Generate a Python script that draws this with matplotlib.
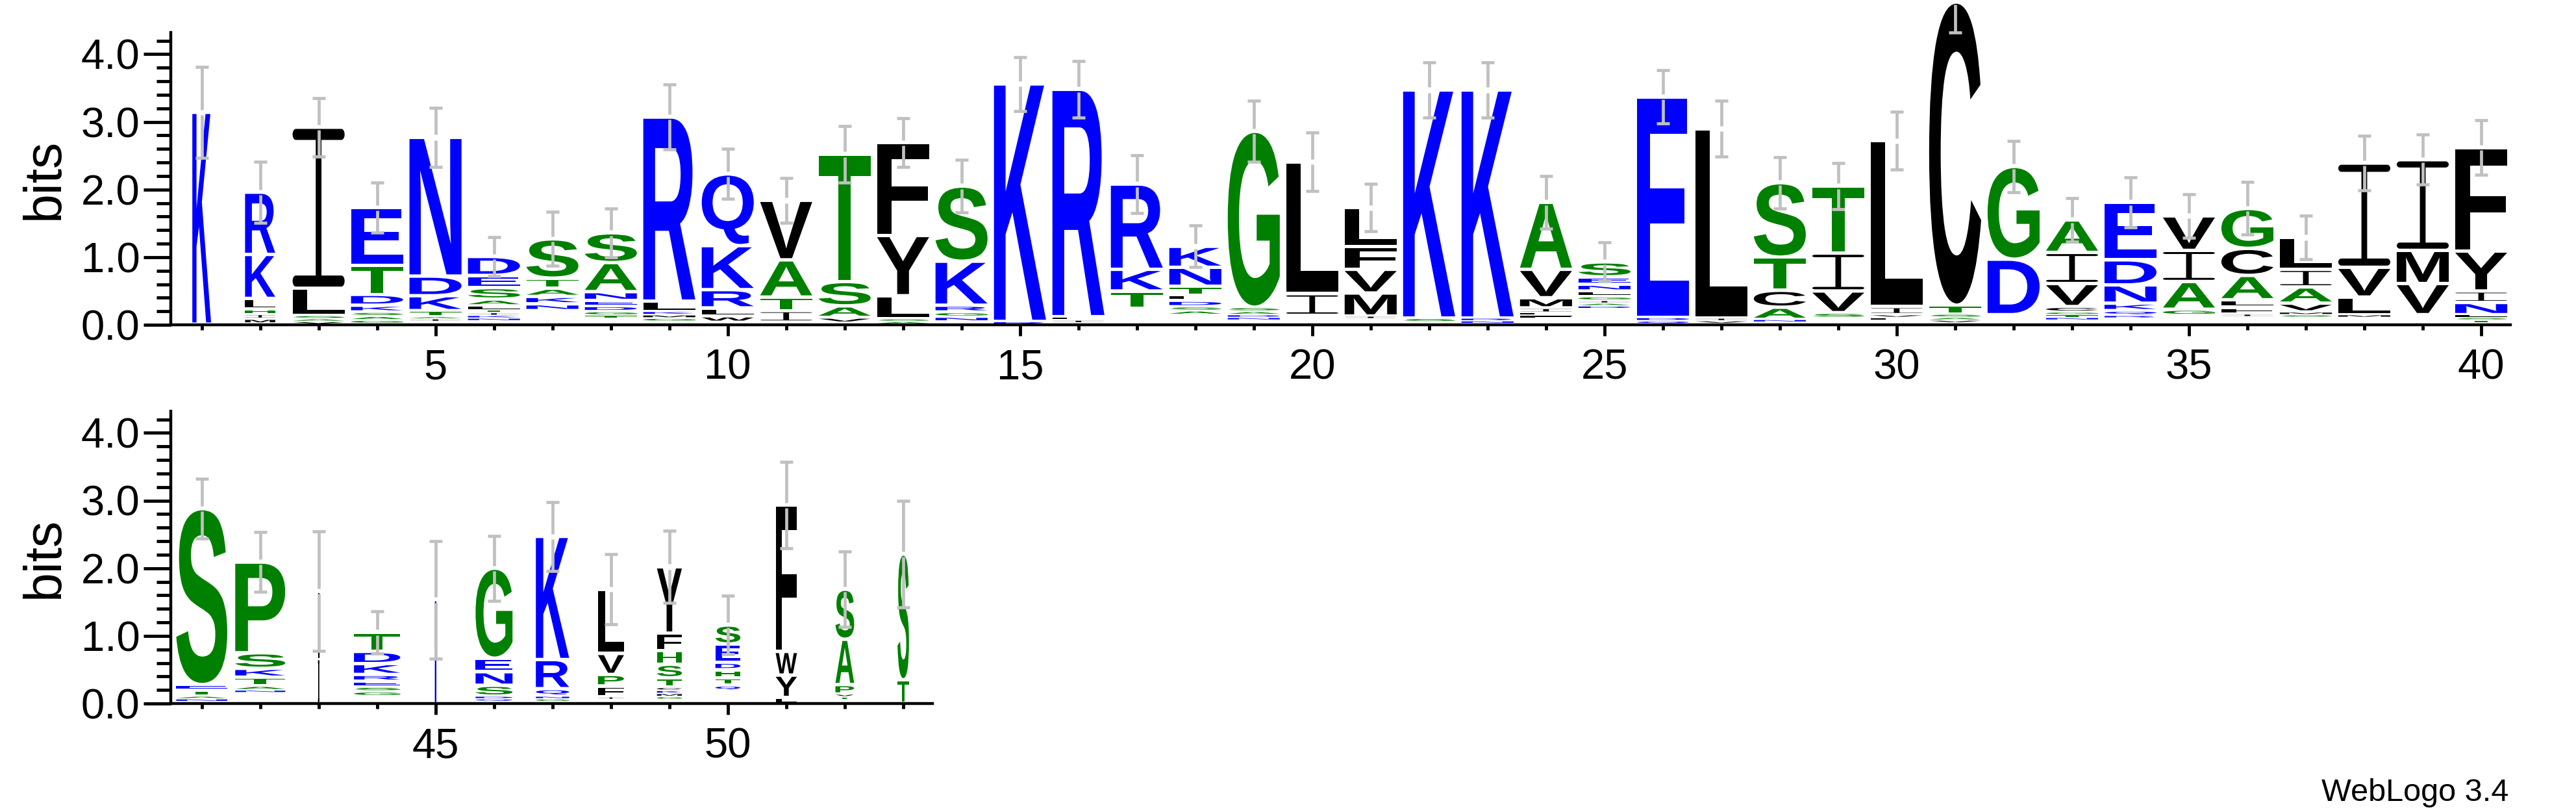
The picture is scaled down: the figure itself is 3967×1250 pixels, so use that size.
import numpy as np
import matplotlib
matplotlib.use("Agg")
import matplotlib.pyplot as plt
from matplotlib.textpath import TextPath
from matplotlib.font_manager import FontProperties
from matplotlib.patches import PathPatch
from matplotlib.path import Path
from matplotlib.transforms import Affine2D, Bbox
import matplotlib.ticker as mticker

# ---------------- data (letters listed bottom -> top, heights in bits) ----------------
positions = list(range(1, 54))

stack_letters = [
    "K", "MIHLKR", "VASLI", "GASKDTE", "IATKDN", "NKITLASED", "NKATS", "TGDENAS",
    "GMKLR", "WLRKQ", "ITAV", "VAST", "ASLYF", "NGRKS", "RK", "ILR", "TKR",
    "ASDLTNK", "NDASG", "IL", "IMVFL", "SK", "NRK", "FLIMVA", "DAIGLNES", "QDE",
    "VIL", "NACTS", "SVIT", "FVIL", "VASTC", "DG", "NTGCVIA", "RQKNDE", "GAIV",
    "IFLACG", "SMVAIL", "MLVI", "VMI", "TSLNIYF",
    "NATES", "NATKSP", "IL", "GSERKDT", "K", "QDSNEG", "GNQRK", "IFPVL",
    "GMKCTSHFY", "QTHDES", "LYWF", "TVPAS", "TS",
]

stack_heights = [
    [3.13], [0.07, 0.07, 0.07, 0.16, 0.65, 0.92], [0.04, 0.04, 0.05, 0.40, 2.38],
    [0.05, 0.06, 0.06, 0.10, 0.16, 0.43, 0.85], [0.04, 0.03, 0.09, 0.22, 0.29, 2.05],
    [0.04, 0.04, 0.04, 0.04, 0.06, 0.10, 0.17, 0.18, 0.28], [0.10, 0.11, 0.12, 0.15, 0.58],
    [0.04, 0.06, 0.08, 0.08, 0.13, 0.43, 0.44], [0.05, 0.05, 0.05, 0.15, 2.72],
    [0.09, 0.12, 0.27, 0.65, 1.06], [0.17, 0.20, 0.55, 0.88], [0.08, 0.17, 0.36, 1.88],
    [0.04, 0.04, 0.34, 0.89, 1.37], [0.07, 0.07, 0.10, 0.65, 1.11], [0.05, 3.51],
    [0.04, 0.05, 3.36], [0.26, 0.32, 1.26], [0.06, 0.06, 0.09, 0.08, 0.13, 0.28, 0.31],
    [0.04, 0.04, 0.05, 0.06, 2.60], [0.32, 1.95], [0.04, 0.34, 0.35, 0.34, 0.57],
    [0.06, 3.37], [0.04, 0.04, 3.37], [0.04, 0.04, 0.07, 0.15, 0.42, 0.99],
    [0.04, 0.04, 0.04, 0.06, 0.08, 0.10, 0.11, 0.22], [0.05, 0.05, 3.26],
    [0.04, 0.04, 2.80], [0.04, 0.18, 0.25, 0.49, 1.10], [0.08, 0.32, 0.56, 0.99],
    [0.04, 0.04, 0.12, 2.45], [0.04, 0.04, 0.05, 0.13, 4.48], [0.82, 1.37],
    [0.04, 0.04, 0.04, 0.08, 0.34, 0.46, 0.48], [0.04, 0.07, 0.11, 0.27, 0.37, 0.85],
    [0.09, 0.41, 0.46, 0.51], [0.04, 0.10, 0.11, 0.36, 0.40, 0.59],
    [0.04, 0.04, 0.13, 0.24, 0.26, 0.47], [0.04, 0.26, 0.44, 1.54], [0.46, 0.49, 1.34],
    [0.04, 0.04, 0.04, 0.18, 0.17, 0.59, 1.53],
    [0.04, 0.04, 0.09, 0.08, 2.60], [0.04, 0.06, 0.13, 0.13, 0.23, 1.34], [0.66, 1.00],
    [0.07, 0.07, 0.08, 0.10, 0.16, 0.18, 0.28], [1.53], [0.04, 0.04, 0.16, 0.20, 0.20, 1.33],
    [0.04, 0.04, 0.11, 0.43, 1.82], [0.04, 0.16, 0.17, 0.31, 0.95],
    [0.045, 0.045, 0.045, 0.045, 0.14, 0.20, 0.20, 0.26, 0.98],
    [0.08, 0.11, 0.12, 0.11, 0.27, 0.28], [0.09, 0.33, 0.35, 2.16],
    [0.04, 0.04, 0.14, 0.67, 0.74], [0.35, 1.86],
]

# bits taken by letters too small to be seen (blank space at the stack bottom)
stack_base = [
    0.01, 0.02, 0.01, 0.02, 0.05, 0.06, 0.21, 0.10, 0.05, 0.04, 0.04, 0.03, 0.01, 0.05,
    0.00, 0.03, 0.24, 0.15, 0.07, 0.14, 0.09, 0.04, 0.02, 0.10, 0.24, 0.01, 0.02, 0.04,
    0.10, 0.07, 0.03, 0.15, 0.07, 0.10, 0.14, 0.12, 0.11, 0.11, 0.15, 0.03,
    0.03, 0.16, 0.00, 0.11, 0.00, 0.03, 0.03, 0.06, 0.06, 0.19, 0.00, 0.06, 0.00,
]

# relative stack width (occupancy)
stack_width = [0.36, 0.58] + [1.0] * 38 + [
    0.98, 0.96, 0.012, 0.89, 0.012, 0.71, 0.64, 0.50, 0.48, 0.48, 0.41, 0.36, 0.22]

error_half = [
    0.67, 0.45, 0.43, 0.37, 0.44, 0.29, 0.40, 0.36, 0.48, 0.37, 0.33, 0.42, 0.36, 0.39,
    0.40, 0.42, 0.43, 0.31, 0.45, 0.43, 0.35, 0.41, 0.41, 0.39, 0.29, 0.39, 0.41, 0.38,
    0.34, 0.43, 0.45, 0.38, 0.32, 0.37, 0.32, 0.39, 0.32, 0.40, 0.37, 0.40,
    0.44, 0.44, 0.88, 0.31, 0.87, 0.48, 0.51, 0.52, 0.53, 0.43, 0.64, 0.56, 0.79,
]

row_ranges = [(1, 40), (41, 53)]

# ---------------- style ----------------
BLUE, GREEN, BLACK = "#0000ff", "#008000", "#000000"
color_of = {}
for c in "RKDENQ":
    color_of[c] = BLUE
for c in "SGHTAP":
    color_of[c] = GREEN
for c in "YVMCLFIW":
    color_of[c] = BLACK

FONT = "Liberation Sans"
glyph_prop = FontProperties(family=FONT, weight="bold")
glyph_cache = {}


def serif_I():
    """WebLogo-style capital I (stem with rounded top and bottom bars) in a unit box."""
    t, s, rx = 0.07, 0.11, 0.06
    th = np.linspace(-np.pi / 2, np.pi / 2, 12)
    pts = [(rx, 0.0), (1 - rx, 0.0)]
    pts += [(1 - rx + rx * np.cos(a), t / 2 + t / 2 * np.sin(a)) for a in th[1:-1]]
    pts += [(1 - rx, t), (0.5 + s / 2, t), (0.5 + s / 2, 1 - t), (1 - rx, 1 - t)]
    pts += [(1 - rx + rx * np.cos(a), 1 - t / 2 + t / 2 * np.sin(a)) for a in th[1:-1]]
    pts += [(1 - rx, 1.0), (rx, 1.0)]
    pts += [(rx - rx * np.cos(a), 1 - t / 2 - t / 2 * np.sin(a)) for a in th[1:-1]]
    pts += [(rx, 1 - t), (0.5 - s / 2, 1 - t), (0.5 - s / 2, t), (rx, t)]
    pts += [(rx - rx * np.cos(a), t / 2 - t / 2 * np.sin(a)) for a in th[1:-1]]
    pts += [(rx, 0.0)]
    codes = [Path.MOVETO] + [Path.LINETO] * (len(pts) - 2) + [Path.CLOSEPOLY]
    return Path(np.array(pts), codes)


def glyph(letter):
    if letter not in glyph_cache:
        if letter == "I":
            glyph_cache[letter] = (serif_I(), Bbox([[0, 0], [1, 1]]))
        else:
            p = TextPath((0, 0), letter, size=1, prop=glyph_prop)
            glyph_cache[letter] = (p, p.get_extents())
    return glyph_cache[letter]


FULL_W = 0.89      # width of a full stack in position units
ERR_GAP = 0.04
CAP_HALF = 0.11
GRAY = "#c0c0c0"

W, H = 3967, 1250
fig = plt.figure(figsize=(W / 100, H / 100), dpi=100)

ax_specs = [
    dict(rect=[263 / W, 1 - 500 / H, (3866 - 263) / W, 450 / H], xlim=(0.471, 40.5),
         majors=list(range(5, 41, 5)), bits_y=1 - 275 / H),
    dict(rect=[263 / W, 1 - 1083 / H, (1436 - 263) / W, 450 / H], xlim=(40.47, 53.5),
         majors=[45, 50], bits_y=1 - 858 / H),
]

for (lo, hi), spec in zip(row_ranges, ax_specs):
    ax = fig.add_axes(spec["rect"])
    ax.set_xlim(*spec["xlim"])
    ax.set_ylim(0, 4.32)
    for pos in range(lo, hi + 1):
        i = pos - 1
        wid = FULL_W * stack_width[i]
        y = stack_base[i]
        for letter, h in zip(stack_letters[i], stack_heights[i]):
            path, ext = glyph(letter)
            pad = min(0.025, 0.25 * h)
            gh = h - 2 * pad
            tr = (Affine2D().translate(-ext.x0, -ext.y0)
                  .scale(wid / ext.width, gh / ext.height)
                  .translate(pos - wid / 2, y + pad))
            col = color_of[letter]
            narrow = stack_width[i] < 0.05
            patch = PathPatch(tr.transform_path(path), facecolor=col,
                              edgecolor=col if narrow else "none",
                              lw=0.9 if narrow else 0, clip_on=False, zorder=3)
            ax.add_patch(patch)
            y += h
        top = y
        e = error_half[i]
        kw = dict(color=GRAY, lw=3.4, solid_capstyle="butt", clip_on=False, zorder=4)
        ax.plot([pos, pos], [top + ERR_GAP, top + e], **kw)
        ax.plot([pos, pos], [top - e, top - ERR_GAP], **kw)
        ax.plot([pos - CAP_HALF, pos + CAP_HALF], [top + e, top + e], **kw)
        ax.plot([pos - CAP_HALF, pos + CAP_HALF], [top - e, top - e], **kw)

    for s in ("top", "right"):
        ax.spines[s].set_visible(False)
    for s in ("left", "bottom"):
        ax.spines[s].set_linewidth(3.2)
        ax.spines[s].set_zorder(5)

    ax.yaxis.set_major_locator(mticker.FixedLocator([0, 1, 2, 3, 4]))
    ax.yaxis.set_major_formatter(mticker.FormatStrFormatter("%.1f"))
    ax.yaxis.set_minor_locator(mticker.FixedLocator([k * 0.2 for k in range(22)]))
    ax.xaxis.set_major_locator(mticker.FixedLocator(spec["majors"]))
    ax.xaxis.set_minor_locator(mticker.FixedLocator(list(range(lo, hi + 1))))
    ax.tick_params(axis="y", which="major", length=30, width=3.5, pad=4.3,
                   labelsize=47, direction="out")
    ax.tick_params(axis="y", which="minor", length=16, width=3.5, direction="out")
    ax.tick_params(axis="x", which="major", length=12, width=3.5, pad=14,
                   labelsize=47, direction="out")
    ax.tick_params(axis="x", which="minor", length=6, width=3.5, direction="out")
    for lab in ax.get_xticklabels() + ax.get_yticklabels():
        lab.set_fontfamily(FONT)
    ax.patch.set_alpha(0)

    fig.text(69 / W, spec["bits_y"], "bits", rotation=90, ha="center", va="center",
             fontsize=58, family=FONT)

fig.text(3863 / W, 1 - 1233 / H, "WebLogo 3.4", ha="right", va="baseline",
         fontsize=35, family=FONT)

fig.savefig("out.png", dpi=100, facecolor="white")
